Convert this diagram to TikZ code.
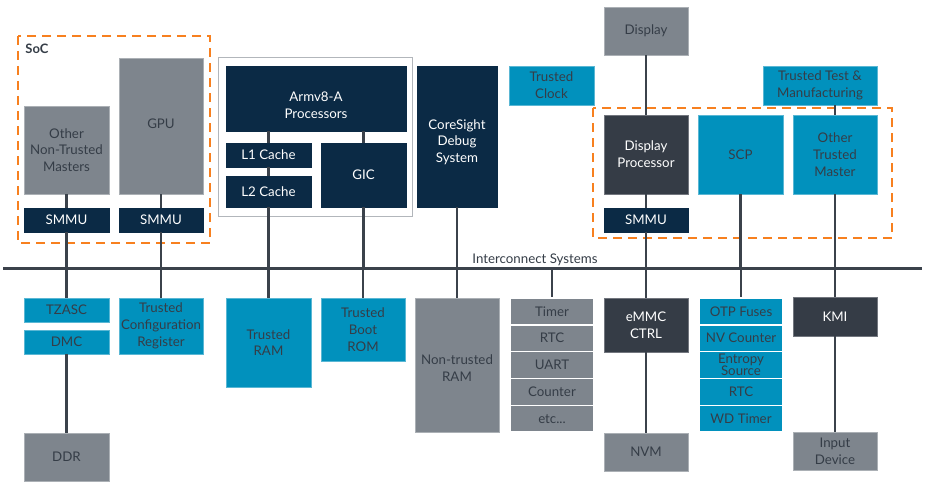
\documentclass[tikz,border=0pt]{standalone}
\usepackage{fontspec}
\setmainfont{Lato}
\definecolor{armnavy}{HTML}{0B2A45}
\definecolor{armslate}{HTML}{353C46}
\definecolor{armteal}{HTML}{0191BD}
\definecolor{armgrey}{HTML}{7E858D}
\definecolor{armtext}{HTML}{353D47}
\definecolor{armline}{HTML}{3B424B}
\definecolor{armorange}{HTML}{F7801F}
\tikzset{
  blk/.style={rectangle, inner sep=0pt, align=center, line width=0.8pt,
    font=\fontsize{13.3}{16.7}\selectfont},
  greyblk/.style={blk, fill=armgrey, draw=armgrey!65!white, text=armtext},
  navyblk/.style={blk, fill=armnavy, draw=armnavy, text=white},
  slateblk/.style={blk, fill=armslate, draw=armslate!70!white, text=white},
  tealblk/.style={blk, fill=armteal, draw=armteal!65!white, text=armtext},
  cell/.style={minimum width=84pt, minimum height=26.8pt, draw=white, line width=1.4pt},
  wire/.style={line width=2.2pt, draw=armline},
  zone/.style={draw=armorange, line width=2.2pt, dash pattern=on 9pt off 6pt},
}
\begin{document}
\begin{tikzpicture}[x=1pt,y=-1pt]
\useasboundingbox (0,0) rectangle (927,487);

% secure zones
\draw[zone] (18,36) rectangle (210,243);
\node[anchor=center, font=\fontsize{13}{16}\bfseries, text=armtext] (soc) at (37,49) {SoC};
\draw[zone] (593,108) rectangle (892,238);

% interconnect bus
\coordinate (busL) at (3,268);
\coordinate (busR) at (922,268);
\draw[line width=3pt, armline] (busL) -- (busR);
\node[font=\fontsize{13.3}{16}\selectfont, text=armtext] (icn) at (535,260) {Interconnect Systems};

% masters
\node[greyblk, minimum width=85pt, minimum height=88pt] (onm) at (66.5,150) {Other\\Non-Trusted\\Masters};
\node[greyblk, minimum width=84pt, minimum height=136pt] (gpu) at (161,126) {};
\node[blk, text=armtext] (gputxt) at (161,124) {GPU};
\node[navyblk, minimum width=85pt, minimum height=24pt] (smmuA) at (66.5,220) {SMMU};
\node[navyblk, minimum width=84pt, minimum height=24pt] (smmuB) at (161,220) {SMMU};

% application processor cluster
\node[rectangle, draw=armgrey!60!white, line width=1pt, fill=white,
  minimum width=194pt, minimum height=158pt] (apc) at (315,137) {};
\node[navyblk, minimum width=180pt, minimum height=65pt] (cpu) at (316,98.5) {};
\node[blk, text=white] (cputxt) at (316,105) {Armv8-A\\Processors};
\node[navyblk, minimum width=85pt, minimum height=24pt] (lone) at (268.5,155) {L1 Cache};
\node[navyblk, minimum width=85pt, minimum height=31pt] (ltwo) at (268.5,191.5) {L2 Cache};
\node[navyblk, minimum width=85pt, minimum height=64pt] (gic) at (363.5,175) {GIC};
\node[navyblk, minimum width=80pt, minimum height=141pt] (cs) at (457,136.5) {};
\node[blk, text=white] (cstxt) at (457,142) {CoreSight\\Debug\\System};

\node[tealblk, minimum width=85pt, minimum height=39pt] (tclk) at (551.5,85.5) {Trusted\\Clock};
\node[greyblk, minimum width=84pt, minimum height=48pt] (disp) at (646,31) {Display};
\node[slateblk, minimum width=84pt, minimum height=79pt] (dpu) at (646,154.5) {Display\\Processor};
\node[navyblk, minimum width=84pt, minimum height=24pt] (smmuC) at (646,220) {SMMU};
\node[tealblk, minimum width=85pt, minimum height=79pt] (scp) at (740.5,154.5) {SCP};
\node[tealblk, minimum width=84pt, minimum height=79pt] (otm) at (835,154.5) {Other\\Trusted\\Master};
\node[tealblk, minimum width=114pt, minimum height=39pt] (ttm) at (820,85.5) {Trusted Test \&\\Manufacturing};

% slaves
\node[tealblk, minimum width=85pt, minimum height=24pt] (tzasc) at (66.5,310) {TZASC};
\node[tealblk, minimum width=85pt, minimum height=24pt] (dmc) at (66.5,342) {DMC};
\node[greyblk, minimum width=85pt, minimum height=48pt] (ddr) at (66.5,457) {DDR};
\node[tealblk, minimum width=84pt, minimum height=56pt] (tcr) at (161,326) {Trusted\\Configuration\\Register};
\node[tealblk, minimum width=85pt, minimum height=89pt] (tram) at (268.5,342.5) {Trusted\\RAM};
\node[tealblk, minimum width=84pt, minimum height=63pt] (tbrom) at (363,329.5) {Trusted\\Boot\\ROM};
\node[greyblk, minimum width=84pt, minimum height=134pt] (ntram) at (457,365) {};
\node[blk, text=armtext] (ntramtxt) at (457,368) {Non-trusted\\RAM};

\node[greyblk, cell] (timer) at (552,311.4) {Timer};
\node[greyblk, cell] (rtcA) at (552,338.2) {RTC};
\node[greyblk, cell] (uart) at (552,365) {UART};
\node[greyblk, cell] (cnt) at (552,391.8) {Counter};
\node[greyblk, cell] (etc) at (552,418.6) {etc...};

\node[slateblk, minimum width=84pt, minimum height=54pt] (emmc) at (646,325) {eMMC\\CTRL};
\node[greyblk, minimum width=84pt, minimum height=38pt] (nvm) at (646,452) {NVM};

\node[tealblk, cell] (otp) at (741,311.4) {OTP Fuses};
\node[tealblk, cell] (nvc) at (741,338.2) {NV Counter};
\node[tealblk, cell, font=\fontsize{13.3}{12}\selectfont] (ent) at (741,365) {Entropy\\Source};
\node[tealblk, cell] (rtcB) at (741,391.8) {RTC};
\node[tealblk, cell] (wdt) at (741,418.6) {WD Timer};

\node[slateblk, minimum width=84pt, minimum height=39pt] (kmi) at (835,316.5) {KMI};
\node[greyblk, minimum width=84pt, minimum height=38pt] (indev) at (835,451) {Input\\Device};

% connections above the bus
\draw[wire] (onm.south) -- (smmuA.north);
\draw[wire] (smmuA.south) -- (smmuA.south |- busL);
\draw[wire] (gpu.south) -- (smmuB.north);
\draw[wire] (smmuB.south) -- (smmuB.south |- busL);
\draw[wire] (cpu.south -| lone.north) -- (lone.north);
\draw[wire] (lone.south) -- (ltwo.north);
\draw[wire] (ltwo.south) -- (ltwo.south |- busL);
\draw[wire] (cpu.south -| gic.north) -- (gic.north);
\draw[wire] (gic.south) -- (gic.south |- busL);
\draw[wire] (cs.south) -- (cs.south |- busL);
\draw[wire] (disp.south) -- (dpu.north);
\draw[wire] (dpu.south) -- (smmuC.north);
\draw[wire] (smmuC.south) -- (smmuC.south |- busL);
\draw[wire] (scp.south) -- (scp.south |- busL);
\draw[wire] (otm.north |- ttm.south) -- (otm.north);
\draw[wire] (otm.south) -- (otm.south |- busL);

% connections below the bus
\draw[wire] (tzasc.north |- busL) -- (tzasc.north);
\draw[wire] (dmc.south) -- (ddr.north);
\draw[wire] (tcr.north |- busL) -- (tcr.north);
\draw[wire] (tram.north |- busL) -- (tram.north);
\draw[wire] (tbrom.north |- busL) -- (tbrom.north);
\draw[wire] (ntram.north |- busL) -- (ntram.north);
\draw[wire] (timer.north |- busL) -- (timer.north);
\draw[wire] (emmc.north |- busL) -- (emmc.north);
\draw[wire] (emmc.south) -- (nvm.north);
\draw[wire] (otp.north |- busL) -- (otp.north);
\draw[wire] (kmi.north |- busL) -- (kmi.north);
\draw[wire] (kmi.south) -- (indev.north);
\end{tikzpicture}
\end{document}
